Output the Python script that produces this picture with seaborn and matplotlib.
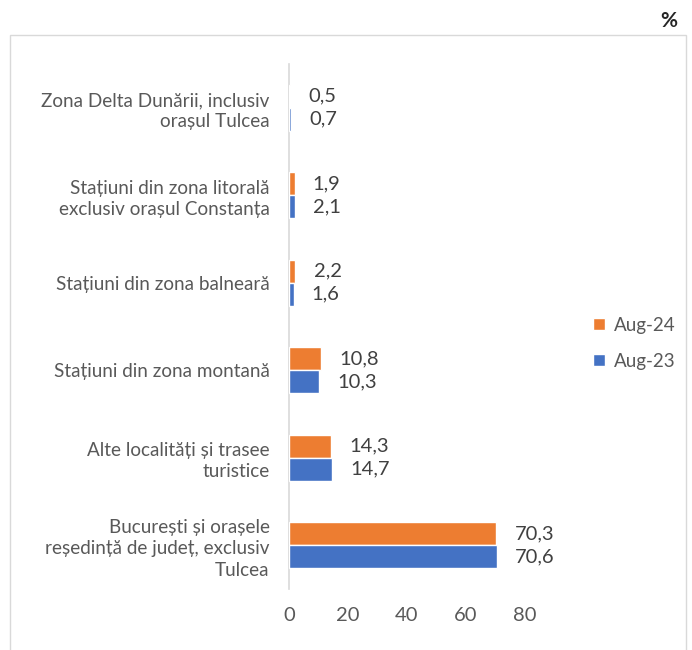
import pandas as pd
import seaborn as sns
import matplotlib.pyplot as plt
from matplotlib.patches import Rectangle

sns.set_theme(style="white")
plt.rcParams["font.family"] = ["Lato", "DejaVu Sans"]

categories = [
    "Zona Delta Dunării, inclusiv\norașul Tulcea",
    "Stațiuni din zona litorală\nexclusiv orașul Constanța",
    "Stațiuni din zona balneară",
    "Stațiuni din zona montană",
    "Alte localități și trasee\nturistice",
    "București și orașele\nreședință de județ, exclusiv\nTulcea",
]
aug24 = [0.5, 1.9, 2.2, 10.8, 14.3, 70.3]
aug23 = [0.7, 2.1, 1.6, 10.3, 14.7, 70.6]
series = ["Aug-24", "Aug-23"]
colors = {"Aug-24": "#ED7D31", "Aug-23": "#4472C4"}

df = pd.DataFrame({
    "cat": categories * 2,
    "val": aug24 + aug23,
    "serie": [series[0]] * len(categories) + [series[1]] * len(categories),
})

fig = plt.figure(figsize=(6.92, 6.5), dpi=100)
ax = fig.add_axes([0.4176, 0.0938, 0.3411, 0.8077])

sns.barplot(df, x="val", y="cat", hue="serie", hue_order=series, order=categories,
            palette=colors, orient="h", width=0.53, gap=0, ax=ax, saturation=1)

ax.set_xlim(0, 80)
ax.set_xticks([0, 20, 40, 60, 80])
ax.set_xlabel("")
ax.set_ylabel("")
for s in ["top", "right", "bottom"]:
    ax.spines[s].set_visible(False)
ax.spines["left"].set_color("#D9D9D9")
ax.spines["left"].set_linewidth(1.2)
ax.spines["left"].set_zorder(0.5)
ax.tick_params(axis="x", labelsize=14.5, colors="#595959", length=0, pad=13)
ax.tick_params(axis="y", labelsize=13.6, colors="#595959", length=0, pad=14)
for lab in ax.get_yticklabels():
    lab.set_linespacing(1.3)

for cont in ax.containers:
    labels = [f"{v:.1f}".replace(".", ",") for v in cont.datavalues]
    ax.bar_label(cont, labels=labels, padding=13, fontsize=14.5, color="#404040")

ax.legend(loc="center left", bbox_to_anchor=(0.832, 0.472), bbox_transform=fig.transFigure,
          frameon=False, fontsize=13.5, handlelength=0.65, handleheight=0.65,
          labelspacing=1.0, handletextpad=0.5, labelcolor="#595959")

fig.patches.append(Rectangle((10 / 692, -0.01), 676 / 692, 1 - 35 / 650 + 0.01,
                             transform=fig.transFigure, fill=False,
                             edgecolor="#D9D9D9", linewidth=1))
fig.text(0.967, 0.967, "%", fontsize=15, fontweight="bold", ha="center", va="center")

fig.savefig("out.png", dpi=100)
